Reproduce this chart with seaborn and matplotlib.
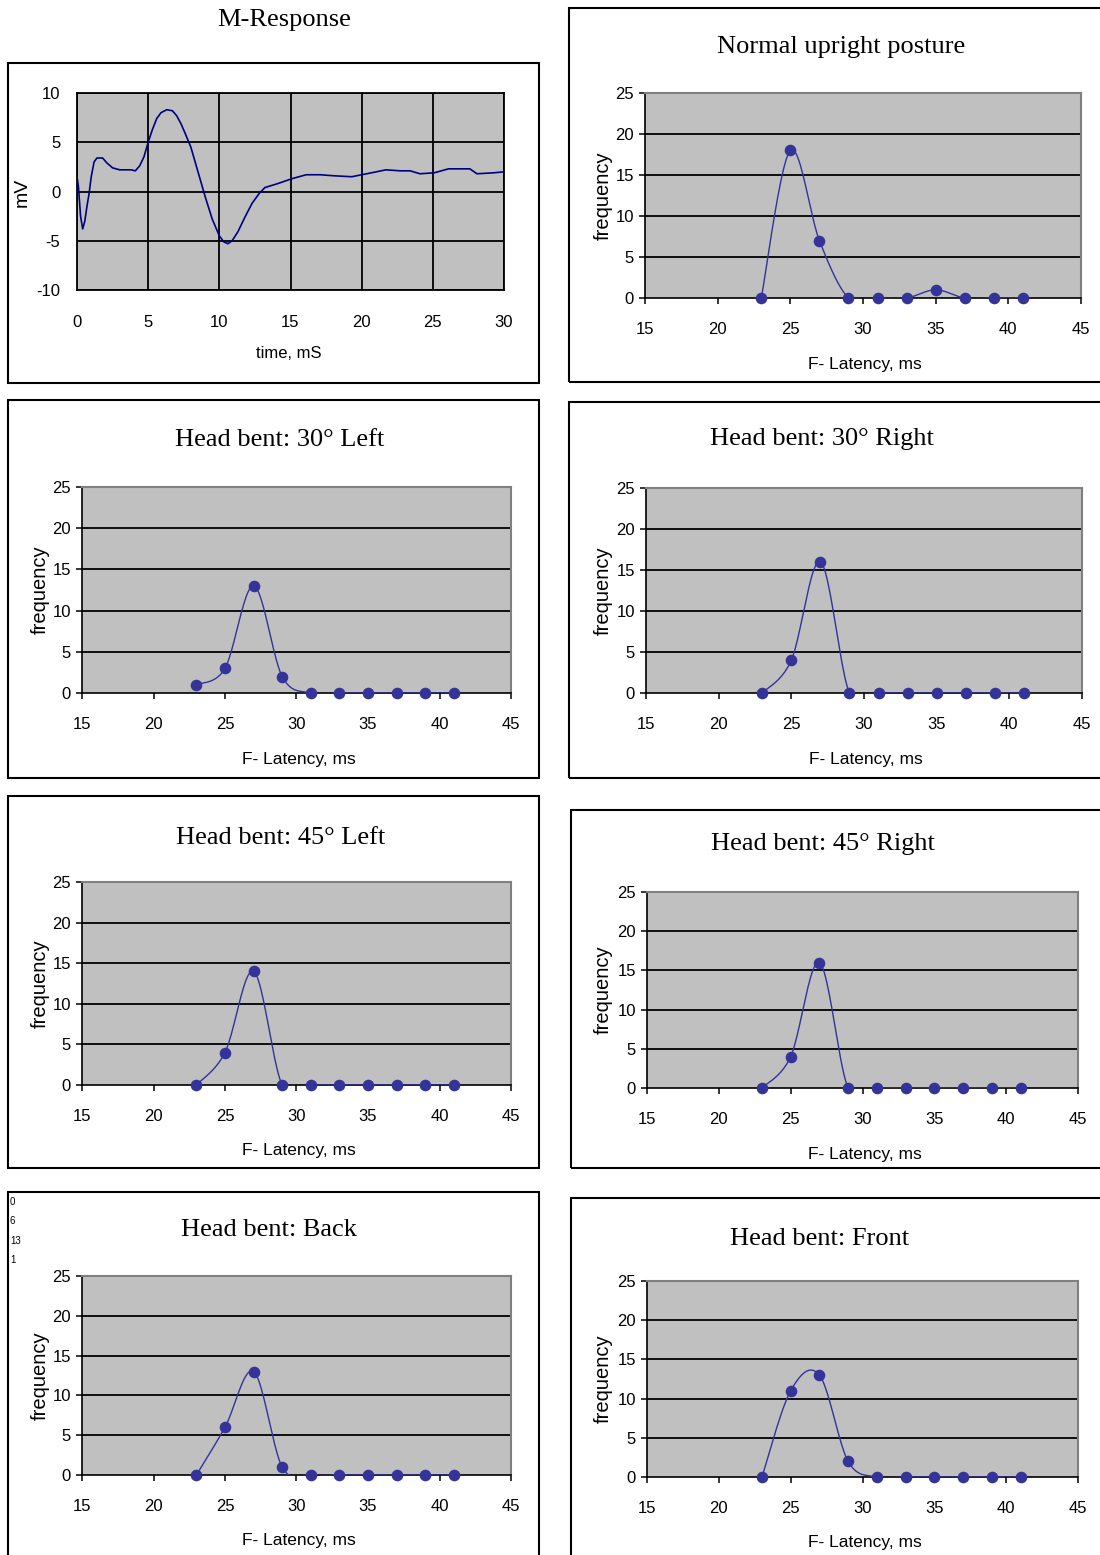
import numpy as np
import pandas as pd
import matplotlib
matplotlib.use("Agg")
import matplotlib.pyplot as plt
from matplotlib.patches import Rectangle
import seaborn as sns

sns.set_theme(style="white")
plt.rcParams['font.family'] = ['Liberation Sans', 'DejaVu Sans']
plt.rcParams['axes.unicode_minus'] = False
plt.rcParams['text.color'] = 'black'
plt.rcParams['xtick.color'] = 'black'
plt.rcParams['ytick.color'] = 'black'

# ---------------- data ----------------
m_time = [0, 0, 0.1, 0.25, 0.4, 0.55, 0.7, 0.85, 1.0, 1.2, 1.4, 1.8, 2.1, 2.5, 3.0, 3.8,
          4.1, 4.4, 4.7, 5.0, 5.3, 5.6, 5.9, 6.3, 6.7, 7.0, 7.3, 7.6, 8.0, 8.5, 9.0,
          9.5, 10.0, 10.3, 10.6, 10.9, 11.3, 11.8, 12.3, 12.8, 13.2, 14.1, 15.1, 16.1,
          17.1, 18.0, 19.3, 20.0, 20.7, 21.7, 22.7, 23.4, 24.1, 25.1, 26.1, 27.6, 28.1,
          29.3, 30.0]
m_volt = [-10, 1.5, 0.5, -2.5, -3.8, -3.0, -1.5, -0.2, 1.5, 3.0, 3.4, 3.4, 2.9, 2.4, 2.2, 2.2,
          2.1, 2.6, 3.5, 5.0, 6.3, 7.4, 8.0, 8.3, 8.2, 7.7, 6.9, 5.9, 4.5, 2.0, -0.5,
          -2.8, -4.5, -5.1, -5.3, -5.0, -4.1, -2.6, -1.2, -0.2, 0.4, 0.8, 1.3, 1.7,
          1.7, 1.6, 1.5, 1.7, 1.9, 2.2, 2.1, 2.1, 1.8, 1.9, 2.3, 2.3, 1.8,
          1.9, 2.0]

latency = [23, 25, 27, 29, 31, 33, 35, 37, 39, 41]
freq_normal = [0, 18, 7, 0, 0, 0, 1, 0, 0, 0]
freq_left30 = [1, 3, 13, 2, 0, 0, 0, 0, 0, 0]
freq_right30 = [0, 4, 16, 0, 0, 0, 0, 0, 0, 0]
freq_left45 = [0, 4, 14, 0, 0, 0, 0, 0, 0, 0]
freq_right45 = [0, 4, 16, 0, 0, 0, 0, 0, 0, 0]
freq_back = [0, 6, 13, 1, 0, 0, 0, 0, 0, 0]
freq_front = [0, 11, 13, 2, 0, 0, 0, 0, 0, 0]

titles = ["Normal upright posture", "Head bent: 30\u00b0 Left", "Head bent: 30\u00b0 Right",
          "Head bent: 45\u00b0 Left", "Head bent: 45\u00b0 Right",
          "Head bent: Back", "Head bent: Front"]
stray_text = ["0", "6", "13", "1"]

W, H = 1100, 1555
fig = plt.figure(figsize=(W / 100, H / 100), dpi=100)
fig.patch.set_facecolor("white")

LINE = "#333399"
BG = "#C0C0C0"
SERIF = ['Liberation Serif', 'DejaVu Serif']
NARROW = ['Liberation Sans Narrow', 'Liberation Sans', 'DejaVu Sans']


def fx(x):
    return x / W


def fy(y):
    return 1 - y / H


def box(x0, y0, x1, y1):
    fig.patches.append(Rectangle((fx(x0), fy(y1)), fx(x1 - x0), (y1 - y0) / H,
                                 transform=fig.transFigure, fill=False,
                                 edgecolor="black", linewidth=1.5, zorder=0))


def add_axes(x0, y0, x1, y1):
    return fig.add_axes([fx(x0), fy(y1), fx(x1 - x0), (y1 - y0) / H])


def smooth(xs, ys, n=24):
    pts = np.column_stack([xs, ys]).astype(float)
    out = []
    for i in range(len(pts) - 1):
        p0 = pts[max(i - 1, 0)]
        p1 = pts[i]
        p2 = pts[i + 1]
        p3 = pts[min(i + 2, len(pts) - 1)]
        c1 = p1 + (p2 - p0) / 6
        c2 = p2 - (p3 - p1) / 6
        t = np.linspace(0, 1, n)[:, None]
        seg = (1 - t) ** 3 * p1 + 3 * (1 - t) ** 2 * t * c1 + 3 * (1 - t) * t ** 2 * c2 + t ** 3 * p2
        out.append(seg if i == 0 else seg[1:])
    return np.vstack(out)


# ---------------- M-Response ----------------
box(8, 63, 539, 383)
fig.text(fx(284), fy(20), "M-Response", family=SERIF, fontsize=19, ha="center", va="center")
ax = add_axes(77, 93, 504, 290)
ax.set_facecolor(BG)
mdf = pd.DataFrame({"t": m_time, "v": m_volt})
sns.lineplot(data=mdf, x="t", y="v", sort=False, ax=ax, color="#000080", linewidth=1.2,
             estimator=None, zorder=3)
ax.set_xlim(0, 30)
ax.set_ylim(-10, 10)
ax.set_xticks(range(0, 31, 5))
ax.set_yticks([-10, -5, 0, 5, 10])
ax.grid(True, color="black", linewidth=1.3)
ax.set_axisbelow(True)
for s in ax.spines.values():
    s.set_color("black")
    s.set_linewidth(1.3)
ax.tick_params(length=0, labelsize=12)
ax.tick_params(axis="x", pad=18)
ax.tick_params(axis="y", pad=12)
ax.set_xlabel("")
ax.set_ylabel("")
fig.text(fx(289), fy(353), "time, mS", fontsize=12, ha="center", va="center")
fig.text(fx(22), fy(192), "mV", fontsize=14, ha="center", va="center", rotation=90)

# ---------------- frequency panels ----------------
panels = [
    ((569, 8, 1110, 382), (841, 47), (645, 93, 1081, 298), freq_normal, 603),
    ((8, 400, 539, 778), (280, 440), (82, 487, 511, 693), freq_left30, 40),
    ((569, 402, 1110, 778), (822, 439), (646, 488, 1082, 693), freq_right30, 603),
    ((8, 796, 539, 1168), (281, 838), (82, 882, 511, 1085), freq_left45, 40),
    ((571, 810, 1110, 1168), (823, 844), (647, 892, 1078, 1088), freq_right45, 603),
    ((8, 1192, 539, 1565), (269, 1230), (82, 1276, 511, 1475), freq_back, 40),
    ((571, 1198, 1110, 1565), (820, 1239), (647, 1281, 1078, 1477), freq_front, 603),
]

for (bx, tp, axp, series, ylab_x), title in zip(panels, titles):
    box(*bx)
    fig.text(fx(tp[0]), fy(tp[1]), title, family=SERIF, fontsize=19, ha="center", va="center")
    ax = add_axes(*axp)
    ax.set_facecolor(BG)
    sm = smooth(latency, series)
    sdf = pd.DataFrame({"x": sm[:, 0], "y": sm[:, 1]})
    sns.lineplot(data=sdf, x="x", y="y", sort=False, estimator=None, ax=ax,
                 color=LINE, linewidth=1.0, zorder=3)
    pdf = pd.DataFrame({"x": latency, "y": series})
    sns.scatterplot(data=pdf, x="x", y="y", ax=ax, color=LINE, s=70, edgecolor=LINE,
                    linewidth=0, zorder=4, clip_on=False)
    ax.set_xlim(15, 45)
    ax.set_ylim(0, 25)
    ax.set_xticks(range(15, 46, 5))
    ax.set_yticks(range(0, 26, 5))
    for yv in [5, 10, 15, 20]:
        ax.axhline(yv, color="black", linewidth=1.3, zorder=1)
    ax.spines["top"].set_color("#808080")
    ax.spines["right"].set_color("#808080")
    ax.spines["top"].set_linewidth(1.5)
    ax.spines["right"].set_linewidth(1.5)
    ax.spines["left"].set_color("black")
    ax.spines["bottom"].set_color("black")
    ax.spines["left"].set_linewidth(1.2)
    ax.spines["bottom"].set_linewidth(1.2)
    ax.tick_params(axis="both", direction="out", length=4, width=1.1, color="black",
                   labelsize=12, left=True, bottom=True)
    ax.tick_params(axis="x", pad=13)
    ax.tick_params(axis="y", pad=4)
    for lab in ax.get_xticklabels() + ax.get_yticklabels():
        lab.set_family(NARROW)
    ax.set_xlabel("")
    ax.set_ylabel("")
    cx = (axp[0] + axp[2]) / 2
    fig.text(fx(cx + 2), fy(axp[3] + 66), "F- Latency, ms", family=NARROW, fontsize=12.5,
             ha="center", va="center")
    fig.text(fx(ylab_x), fy((axp[1] + axp[3]) / 2), "frequency", fontsize=14.5,
             ha="center", va="center", rotation=90)

# stray labels in the Back panel box
for i, s in enumerate(stray_text):
    fig.text(fx(10), fy(1202 + i * 19.3), s, family=NARROW, fontsize=7, ha="left", va="center")

fig.savefig("out.png", dpi=100, facecolor="white")
